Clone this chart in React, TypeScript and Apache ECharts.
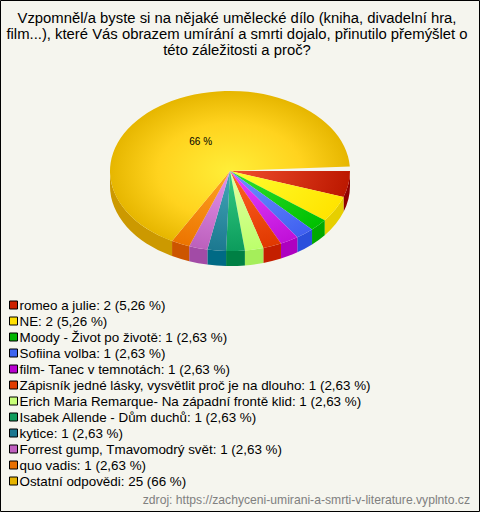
import React, { useEffect, useRef } from "react";
import * as echarts from "echarts";

const titleLines = [
  "Vzpomněl/a byste si na nějaké umělecké dílo (kniha, divadelní hra,",
  "film...), které Vás obrazem umírání a smrti dojalo, přinutilo přemýšlet o",
  "této záležitosti a proč?",
];
const sourceText = "zdroj: https://zachyceni-umirani-a-smrti-v-literature.vyplnto.cz";
const sliceLabels = [
  "romeo a julie: 2 (5,26 %)",
  "NE: 2 (5,26 %)",
  "Moody - Život po životě: 1 (2,63 %)",
  "Sofiina volba: 1 (2,63 %)",
  "film- Tanec v temnotách: 1 (2,63 %)",
  "Zápisník jedné lásky, vysvětlit proč je na dlouho: 1 (2,63 %)",
  "Erich Maria Remarque- Na západní frontě klid: 1 (2,63 %)",
  "Isabek Allende - Dům duchů: 1 (2,63 %)",
  "kytice: 1 (2,63 %)",
  "Forrest gump, Tmavomodrý svět: 1 (2,63 %)",
  "quo vadis: 1 (2,63 %)",
  "Ostatní odpovědi: 25 (66 %)",
];
// Share of the full turn that each slice covers in the picture, in percent.
const sliceShares = [5.26, 5.26, 2.5, 2.5, 2.5, 2.5, 2.5, 2.5, 2.5, 2.5, 2.5, 66.1];
const legendColors = ["#cc2200", "#ffe000", "#00b400", "#3c64f0", "#b800d0", "#e03c00", "#c8ff78", "#109c5c", "#1c7890", "#c060c0", "#e87000", "#e6b400"];
const innerColors = ["#f2502e", "#ffff30", "#30e030", "#6c94ff", "#e444ff", "#ff6424", "#e4ffa4", "#34cc84", "#44a8b8", "#e494ec", "#ffa424", "#ffee38"];
const outerColors = ["#bc1800", "#ffe400", "#00c000", "#4060f0", "#c010d8", "#e03800", "#bcff6c", "#0c9c5c", "#1c7890", "#bc60bc", "#ec7400", "#e6b600"];
const wallColors = ["#8f0000", "#e6cf00", "#00a800", "#2b4fdc", "#ae00c0", "#c41f00", "#a5ee5a", "#008044", "#006a85", "#a24ba6", "#cc5500", "#cc9900"];
const pieLabel = "66 %";

const CX = 230;
const CY = 171;
const RX = 120;
const RY = 80;
const DEPTH = 15;
const K = RY / RX;

function pt(deg: number, off = 0) {
  const a = (deg * Math.PI) / 180;
  return [RX * Math.cos(a), RX * Math.sin(a) + off];
}

function topPath(t1: number, t2: number) {
  const p1 = pt(t1);
  const p2 = pt(t2);
  const large = t2 - t1 > 180 ? 1 : 0;
  return `M0 0L${p1[0]} ${p1[1]}A${RX} ${RX} 0 ${large} 1 ${p2[0]} ${p2[1]}Z`;
}

function wallPath(t1: number, t2: number) {
  const a = Math.max(t1, 0);
  const b = Math.min(t2, 180);
  if (b <= a) return "";
  const d = DEPTH / K;
  const p1 = pt(a);
  const p2 = pt(b);
  const p3 = pt(b, d);
  const p4 = pt(a, d);
  return `M${p1[0]} ${p1[1]}A${RX} ${RX} 0 0 1 ${p2[0]} ${p2[1]}L${p3[0]} ${p3[1]}A${RX} ${RX} 0 0 0 ${p4[0]} ${p4[1]}Z`;
}

export default function App() {
  const ref = useRef<HTMLDivElement>(null);
  useEffect(() => {
    const chart = echarts.init(ref.current!, null, { renderer: "svg" });
    let acc = 0;
    const series = sliceLabels.map((name, i) => {
      const t1 = (acc / 100) * 360;
      acc += sliceShares[i];
      const t2 = (acc / 100) * 360;
      const last = i === sliceLabels.length - 1;
      const mid = (((t1 + t2) / 2) * Math.PI) / 180;
      return {
        type: "custom",
        name,
        coordinateSystem: "none",
        data: [sliceShares[i]],
        itemStyle: { color: legendColors[i] },
        silent: true,
        renderItem: () => {
          const stops = last
            ? [
                { offset: 0, color: innerColors[i] },
                { offset: 0.6, color: "#ffd31e" },
                { offset: 1, color: outerColors[i] },
              ]
            : [
                { offset: 0, color: innerColors[i] },
                { offset: 1, color: outerColors[i] },
              ];
          const children: any[] = [];
          const w = wallPath(t1, t2);
          if (w) {
            children.push({
              type: "path",
              x: CX,
              y: CY,
              scaleY: K,
              shape: { pathData: w },
              style: { fill: wallColors[i] },
            });
          }
          children.push({
            type: "path",
            x: CX,
            y: CY,
            scaleY: K,
            shape: { pathData: topPath(t1, t2) },
            style: {
              fill: { type: "radial", x: 0, y: 0, r: RX, global: true, colorStops: stops },
            },
          });
          if (last) {
            children.push({
              type: "text",
              x: CX + 0.46 * RX * Math.cos(mid),
              y: CY + 0.44 * RY * Math.sin(mid),
              style: {
                text: pieLabel,
                fill: "#000",
                font: "10px 'Liberation Sans'",
                align: "center",
                verticalAlign: "middle",
              },
            });
          }
          return { type: "group", children };
        },
      };
    });
    chart.setOption({
      animation: false,
      backgroundColor: "#f5f5ee",
      title: {
        text: titleLines.join("\n"),
        left: 232,
        top: 5,
        textAlign: "center",
        textStyle: {
          fontFamily: "Liberation Sans",
          fontSize: 14.85,
          fontWeight: "normal",
          color: "#000",
          lineHeight: 16,
        },
      },
      legend: {
        show: true,
        orient: "vertical",
        left: 9,
        top: 297,
        padding: 0,
        itemGap: 0,
        itemWidth: 8,
        itemHeight: 8,
        icon: "rect",
        selectedMode: false,
        data: sliceLabels,
        itemStyle: { borderColor: "#000", borderWidth: 1 },
        textStyle: {
          fontFamily: "Liberation Sans",
          fontSize: 13.4,
          color: "#000",
          lineHeight: 16,
          padding: [0, 0, 0, -3],
        },
      },
      graphic: [
        {
          type: "rect",
          shape: { x: 0.5, y: 0.5, width: 479, height: 511 },
          style: { fill: "none", stroke: "#000", lineWidth: 1 },
          z: 100,
        },
        {
          type: "text",
          x: 470,
          y: 500,
          style: {
            text: sourceText,
            fill: "#808080",
            font: "12.15px 'Liberation Sans'",
            align: "right",
            verticalAlign: "middle",
          },
        },
      ],
      series,
    });
    return () => chart.dispose();
  }, []);
  return <div ref={ref} style={{ position: "absolute", left: 0, top: 0, width: 480, height: 512 }} />;
}
